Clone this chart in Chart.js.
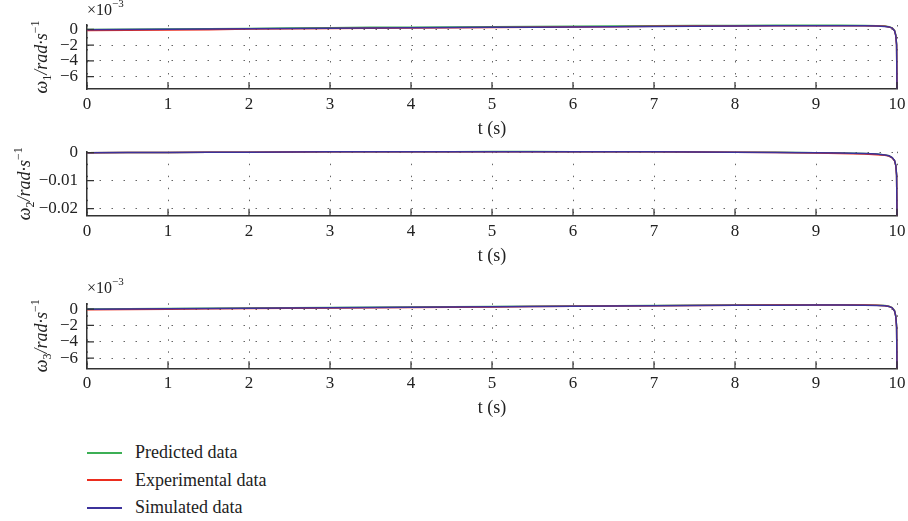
<!DOCTYPE html>
<html>
<head>
<meta charset="utf-8">
<script src="https://cdn.jsdelivr.net/npm/chart.js@4.4.0/dist/chart.umd.min.js"></script>
<style>
    body { margin: 0; background: #fff; width: 908px; height: 521px; overflow: hidden; position: relative; font-family: "Liberation Serif", serif; }
    .panel { position: absolute; left: 0; width: 908px; }
    .legend-row { position: absolute; left: 87px; height: 22px; display: flex; align-items: center; font-size: 18px; color: #222; }
    .legend-row .swatch { width: 35px; height: 2px; margin-right: 13px; }
</style>
</head>
<body>
<div class="panel" style="top:0;height:145px"><canvas id="c1"></canvas></div>
<div class="panel" style="top:140px;height:130px"><canvas id="c2"></canvas></div>
<div class="panel" style="top:275px;height:145px"><canvas id="c3"></canvas></div>
<div id="legend"></div>
<script>
// time samples (s)
const timeS = [0, 0.5, 1, 1.5, 2, 2.5, 3, 3.5, 4, 4.5, 5, 5.5, 6, 6.5, 7, 7.5, 8, 8.5, 9, 9.3, 9.6, 9.75, 9.85, 9.9, 9.94, 9.97, 9.985, 9.995, 10]

// omega 1, units of 1e-3 rad/s
const w1Predicted = [-0.02, 0.0, 0.04, 0.08, 0.11, 0.15, 0.2, 0.24, 0.27, 0.3, 0.33, 0.36, 0.38, 0.41, 0.44, 0.47, 0.49, 0.51, 0.52, 0.51, 0.49, 0.45, 0.4, 0.33, 0.18, -0.15, -0.7, -1.9, -7.6]
const w1Experimental = [-0.15, -0.12, -0.1, -0.06, 0.02, 0.06, 0.1, 0.14, 0.17, 0.2, 0.23, 0.27, 0.3, 0.33, 0.37, 0.4, 0.42, 0.44, 0.45, 0.45, 0.44, 0.42, 0.37, 0.3, 0.15, -0.2, -0.8, -2.0, -7.6]
const w1Simulated = [-0.05, -0.03, 0.0, 0.03, 0.06, 0.09, 0.12, 0.15, 0.18, 0.21, 0.24, 0.27, 0.3, 0.33, 0.36, 0.39, 0.41, 0.43, 0.44, 0.44, 0.43, 0.41, 0.36, 0.3, 0.15, -0.2, -0.8, -2.0, -7.6]

// omega 2, rad/s
const w2Predicted = [0, 0.00005, 0.0001, 0.00015, 0.0002, 0.00026, 0.0003, 0.00034, 0.00036, 0.00038, 0.00039, 0.00039, 0.00038, 0.00036, 0.00032, 0.00027, 0.0002, 0.00012, 0.00002, -0.00008, -0.00028, -0.00048, -0.00078, -0.0011, -0.0017, -0.0028, -0.0045, -0.008, -0.0225]
const w2Experimental = [0, 0.00004, 0.00009, 0.00014, 0.0002, 0.00025, 0.0003, 0.00033, 0.00035, 0.00037, 0.00038, 0.00038, 0.00037, 0.00035, 0.0003, 0.00024, 0.00016, 0.00006, -0.0001, -0.0003, -0.0005, -0.0007, -0.0009, -0.0012, -0.0018, -0.0029, -0.0046, -0.008, -0.0225]
const w2Simulated = [0, 0.00005, 0.0001, 0.00015, 0.0002, 0.00025, 0.0003, 0.00033, 0.00035, 0.00037, 0.00038, 0.00038, 0.00037, 0.00035, 0.0003, 0.00025, 0.00018, 0.0001, 0.0, -0.0001, -0.0003, -0.0005, -0.0008, -0.0011, -0.0017, -0.0028, -0.0045, -0.008, -0.0225]

// omega 3, units of 1e-3 rad/s
const w3Predicted = [0.0, 0.02, 0.06, 0.09, 0.12, 0.16, 0.19, 0.22, 0.25, 0.28, 0.31, 0.34, 0.37, 0.4, 0.43, 0.46, 0.49, 0.52, 0.53, 0.52, 0.5, 0.46, 0.42, 0.34, 0.17, -0.2, -0.85, -2.1, -7.3]
const w3Experimental = [-0.1, -0.06, -0.02, 0.02, 0.06, 0.1, 0.14, 0.17, 0.2, 0.23, 0.26, 0.3, 0.33, 0.36, 0.4, 0.43, 0.46, 0.48, 0.49, 0.49, 0.48, 0.45, 0.4, 0.32, 0.15, -0.25, -0.9, -2.2, -7.3]
const w3Simulated = [-0.02, 0.0, 0.03, 0.06, 0.09, 0.12, 0.15, 0.18, 0.21, 0.24, 0.27, 0.3, 0.33, 0.36, 0.39, 0.42, 0.45, 0.47, 0.48, 0.48, 0.47, 0.44, 0.4, 0.32, 0.15, -0.25, -0.9, -2.2, -7.3]

const xTicks = [0, 1, 2, 3, 4, 5, 6, 7, 8, 9, 10]
const w1Ticks = [0, -2, -4, -6]
const w2Ticks = [0, -0.01, -0.02]
const w3Ticks = [0, -2, -4, -6]

const seriesNames = ['Predicted data', 'Experimental data', 'Simulated data']
const seriesColors = ['rgb(60,175,85)', 'rgb(235,45,30)', 'rgb(60,50,155)']

const serif = '"Liberation Serif", "Times New Roman", serif'


/**
 * inward tick marks, like the original plot
 */
const inwardTicks = {
    id: 'inwardTicks',
    afterDraw(chart) {
        const {ctx, chartArea, scales} = chart
        ctx.save()
        ctx.strokeStyle = '#333'
        ctx.lineWidth = 1.2
        ctx.beginPath()
        scales.x.ticks.forEach(t => {
            const px = scales.x.getPixelForValue(t.value)
            ctx.moveTo(px, chartArea.bottom)
            ctx.lineTo(px, chartArea.bottom - 7)
        })
        scales.y.ticks.forEach(t => {
            const py = scales.y.getPixelForValue(t.value)
            ctx.moveTo(chartArea.left, py)
            ctx.lineTo(chartArea.left + 7, py)
        })
        ctx.stroke()
        ctx.restore()
    }
}

/**
 * rotated y label with subscript and superscript, plus the x10^-3 note
 */
const axisNotes = {
    id: 'axisNotes',
    afterDraw(chart, args, opts) {
        const {ctx, chartArea} = chart
        ctx.save()
        ctx.fillStyle = '#222'
        ctx.textBaseline = 'alphabetic'
        const parts = [
            {t: 'ω', f: 'italic 18px ' + serif, dy: 0},
            {t: opts.sub, f: '12px ' + serif, dy: 4},
            {t: '/rad·s', f: 'italic 18px ' + serif, dy: 0},
            {t: '−1', f: '12px ' + serif, dy: -8},
        ]
        let total = 0
        parts.forEach(p => { ctx.font = p.f; p.w = ctx.measureText(p.t).width; total += p.w })
        ctx.translate(opts.labelX, (chartArea.top + chartArea.bottom) / 2)
        ctx.rotate(-Math.PI / 2)
        let x = -total / 2
        parts.forEach(p => { ctx.font = p.f; ctx.fillText(p.t, x, p.dy); x += p.w })
        ctx.restore()

        if (opts.exponent) {
            ctx.save()
            ctx.fillStyle = '#222'
            ctx.font = '16px ' + serif
            ctx.fillText('×10', chartArea.left, chartArea.top - 10)
            const w = ctx.measureText('×10').width
            ctx.font = '11px ' + serif
            ctx.fillText('−3', chartArea.left + w, chartArea.top - 18)
            ctx.restore()
        }
    }
}


function makePanel(canvasId, height, plotTop, plotBottom, yMin, yMax, yTicks, values, opts) {
    return new Chart(document.getElementById(canvasId), {
        type: 'line',
        data: {
            datasets: values.map((v, i) => ({
                label: seriesNames[i],
                data: timeS.map((t, j) => ({x: t, y: v[j]})),
                borderColor: seriesColors[i],
                borderWidth: 1.5,
                pointRadius: 0,
                tension: 0,
                order: 3 - i,
                clip: {left: 0, top: 2, right: 2, bottom: 0},
            }))
        },
        options: {
            responsive: true,
            maintainAspectRatio: false,
            animation: false,
            events: [],
            layout: {padding: {top: plotTop, right: 11, left: 0, bottom: 0}},
            plugins: {
                legend: {display: false},
                tooltip: {enabled: false},
                axisNotes: {sub: opts.sub, labelX: opts.labelX, exponent: opts.exponent},
            },
            scales: {
                x: {
                    type: 'linear',
                    min: 0,
                    max: 10,
                    afterBuildTicks: scale => { scale.ticks = xTicks.map(v => ({value: v})) },
                    afterFit: scale => {
                        scale.height = height - plotBottom
                        scale.paddingLeft = 0
                        scale.paddingRight = 0
                    },
                    grid: {color: '#666', lineWidth: 1, drawTicks: false},
                    border: {color: '#333', width: 1.5, dash: [1.5, 10.5]},
                    ticks: {padding: 5.5, color: '#222', font: {family: serif, size: 17}, maxRotation: 0, autoSkip: false},
                    title: {display: true, text: 't (s)', color: '#222', font: {family: serif, size: 18}, padding: {top: 0, bottom: opts.titlePad}},
                },
                y: {
                    type: 'linear',
                    min: yMin,
                    max: yMax,
                    afterBuildTicks: scale => { scale.ticks = yTicks.map(v => ({value: v})) },
                    afterFit: scale => {
                        scale.width = 87
                        scale.paddingTop = 0
                        scale.paddingBottom = 0
                    },
                    grid: {color: '#666', lineWidth: 1, drawTicks: false},
                    border: {color: '#333', width: 1.5, dash: [1.5, 10.5]},
                    ticks: {padding: 9, color: '#222', font: {family: serif, size: 17}, autoSkip: false, callback: opts.tickFormat},
                },
            },
        },
        plugins: [inwardTicks, axisNotes],
    })
}

const minusFormat = v => v === 0 ? '0' : '−' + String(Math.abs(v))

makePanel('c1', 145, 25, 89, -7.56, 0.54, w1Ticks, [w1Predicted, w1Experimental, w1Simulated],
    {sub: '1', labelX: 47, exponent: true, titlePad: 5, tickFormat: minusFormat})
makePanel('c2', 130, 11.7, 75.7, -0.0225, 0.00036, w2Ticks, [w2Predicted, w2Experimental, w2Simulated],
    {sub: '2', labelX: 30, exponent: false, titlePad: 3, tickFormat: minusFormat})
makePanel('c3', 145, 28.3, 93.3, -7.23, 0.7, w3Ticks, [w3Predicted, w3Experimental, w3Simulated],
    {sub: '3', labelX: 47, exponent: true, titlePad: 1, tickFormat: minusFormat})

// legend as plain text rows
const legendTops = [441.5, 469, 496.5]
const legend = document.getElementById('legend')
seriesNames.forEach((name, i) => {
    const row = document.createElement('div')
    row.className = 'legend-row'
    row.style.top = legendTops[i] + 'px'
    const sw = document.createElement('span')
    sw.className = 'swatch'
    sw.style.background = seriesColors[i]
    row.appendChild(sw)
    row.appendChild(document.createTextNode(name))
    legend.appendChild(row)
})
</script>
</body>
</html>
